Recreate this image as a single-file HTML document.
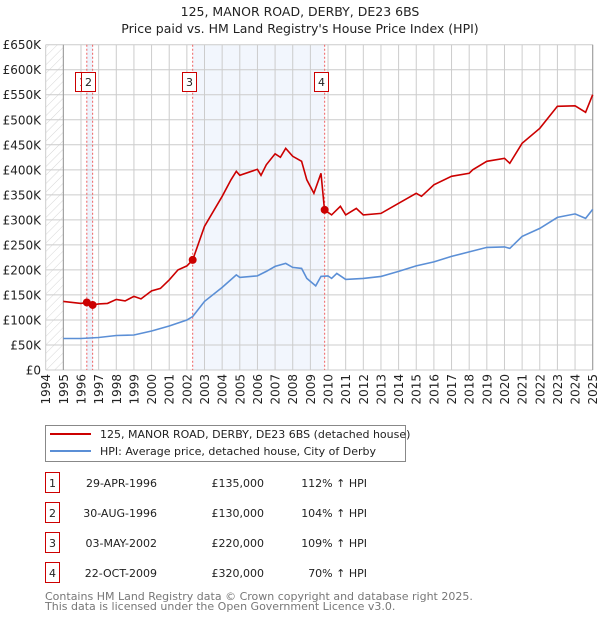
<!DOCTYPE html>
<html><head><meta charset="utf-8"><style>
body{margin:0;background:#fff;font-family:"DejaVu Sans","Liberation Sans",sans-serif;}
svg text{font-family:"DejaVu Sans","Liberation Sans",sans-serif;}
</style></head><body>
<svg id="chart" width="600" height="620" viewBox="0 0 600 620" xmlns="http://www.w3.org/2000/svg">
<defs><pattern id="hatch" width="6" height="6" patternUnits="userSpaceOnUse" patternTransform="rotate(45)"><line x1="0" y1="0" x2="0" y2="6" stroke="#ccc" stroke-width="0.8"/></pattern></defs>
<text x="300" y="16" text-anchor="middle" font-size="12.5" fill="#222">125, MANOR ROAD, DERBY, DE23 6BS</text>
<text x="300" y="33" text-anchor="middle" font-size="12.5" fill="#222">Price paid vs. HM Land Registry's House Price Index (HPI)</text>
<g id="plot"></g>
<g>
<rect x="45.5" y="425.5" width="360" height="36" fill="#fff" stroke="#888"/>
<line x1="50" y1="434" x2="91" y2="434" stroke="#cc0000" stroke-width="2"/>
<text x="100" y="438" font-size="11" fill="#222">125, MANOR ROAD, DERBY, DE23 6BS (detached house)</text>
<line x1="50" y1="451" x2="91" y2="451" stroke="#5b8fd6" stroke-width="2"/>
<text x="100" y="455" font-size="11" fill="#222">HPI: Average price, detached house, City of Derby</text>
</g>
<g id="table" font-size="11" fill="#222"></g>
<text x="45" y="600" font-size="11" fill="#777">Contains HM Land Registry data © Crown copyright and database right 2025.</text>
<text x="45" y="610" font-size="11" fill="#777">This data is licensed under the Open Government Licence v3.0.</text>
</svg>
<script>
const hpiYears=[1995,1996,1997,1998,1999,2000,2001,2002,2002.33,2003,2004,2004.8,2005,2006,2006.5,2007,2007.6,2008,2008.5,2008.8,2009.3,2009.6,2010,2010.2,2010.5,2011,2012,2013,2014,2015,2016,2017,2018,2019,2020,2020.3,2021,2022,2023,2024,2024.6,2025];
const hpiValues=[63,63,65,69,70,78,88,100,107,137,165,190,185,188,197,207,213,205,203,183,168,187,188,183,193,181,183,187,197,208,216,227,236,245,246,243,267,283,305,312,303,321];
const redYears=[1995,1996,1996.33,1996.66,1997,1997.5,1998,1998.5,1999,1999.4,2000,2000.5,2001,2001.5,2002,2002.33,2003,2004,2004.5,2004.8,2005,2006,2006.2,2006.5,2007,2007.3,2007.6,2008,2008.5,2008.8,2009.2,2009.6,2009.8,2010.2,2010.7,2011,2011.6,2012,2013,2014,2015,2015.3,2016,2017,2018,2018.2,2019,2020,2020.3,2021,2022,2023,2024,2024.6,2025];
const redValues=[137,133,135,130,132,133,141,138,147,142,158,163,180,200,208,220,287,347,380,397,389,401,389,410,432,425,443,427,417,380,353,393,320,310,327,310,323,310,313,333,353,347,370,387,393,400,417,423,413,453,483,527,528,515,550];
const saleIds=["1","2","3","4"];
const saleYears=[1996.33,1996.66,2002.33,2009.81];
const salePrices=[135,130,220,320];
const saleDates=["29-APR-1996","30-AUG-1996","03-MAY-2002","22-OCT-2009"];
const salePriceLabels=["£135,000","£130,000","£220,000","£320,000"];
const saleHpiLabels=["112% ↑ HPI","104% ↑ HPI","109% ↑ HPI","70% ↑ HPI"];
const yTicks=[0,50,100,150,200,250,300,350,400,450,500,550,600,650];
const yTickLabels=["£0","£50K","£100K","£150K","£200K","£250K","£300K","£350K","£400K","£450K","£500K","£550K","£600K","£650K"];
const xYears=[];for(let y=1994;y<=2025;y++)xYears.push(y);

const NS="http://www.w3.org/2000/svg";
const X0=45.7,X1=592.7,Y0=370,Y1=44.7;
const xs=y=>X0+(y-1994)*(X1-X0)/31;
const ys=v=>Y0-(v)*(Y0-Y1)/650;
const plot=document.getElementById('plot');
function mk(tag,attrs,parent){const e=document.createElementNS(NS,tag);for(const k in attrs)e.setAttribute(k,attrs[k]);(parent||plot).appendChild(e);return e;}
let e;
e=mk('rect',{x:X0,y:Y1,width:X1-X0,height:Y0-Y1,fill:'#fff'});


e=mk('rect',{x:xs(1994),y:Y1,width:xs(1995)-xs(1994),height:Y0-Y1,fill:'url(#hatch)'});


e=mk('rect',{x:xs(saleYears[0]),y:Y1,width:xs(saleYears[1])-xs(saleYears[0]),height:Y0-Y1,fill:'#eef3fc'});


e=mk('rect',{x:xs(saleYears[2]),y:Y1,width:xs(saleYears[3])-xs(saleYears[2]),height:Y0-Y1,fill:'#f2f6fd'});


yTicks.forEach((v,i)=>{
  e=mk('line',{x1:X0,x2:X1,y1:ys(v),y2:ys(v),stroke:'#ccc','stroke-width':1});
  
  
  e=mk('text',{x:41,y:ys(v)+4.5,'text-anchor':'end','font-size':12,fill:'#222'});
  e.textContent=yTickLabels[i];
  
  
});
xYears.forEach(y=>{
  e=mk('line',{x1:xs(y),x2:xs(y),y1:Y1,y2:Y0,stroke:'#ccc','stroke-width':1});
  
  
  e=mk('text',{x:0,y:0,'text-anchor':'end','font-size':12,fill:'#222',transform:`translate(${xs(y)+4.5},374) rotate(-90)`});
  e.textContent=String(y);
  
  
});
e=mk('line',{x1:xs(1995),x2:xs(1995),y1:Y1,y2:Y0,stroke:'#999','stroke-width':1});


e=mk('line',{x1:X1,x2:X1,y1:Y1,y2:Y0,stroke:'#999','stroke-width':1});


saleYears.forEach(y=>{
  e=mk('line',{x1:xs(y),x2:xs(y),y1:Y1,y2:Y0,stroke:'#f06060','stroke-width':1,'stroke-dasharray':'2,2'});
  
  
});
const pts=(a,b)=>a.map((y,i)=>xs(y).toFixed(1)+','+ys(b[i]).toFixed(1)).join(' ');
e=mk('polyline',{points:pts(hpiYears,hpiValues),fill:'none',stroke:'#5b8fd6','stroke-width':1.6});


e=mk('polyline',{points:pts(redYears,redValues),fill:'none',stroke:'#cc0000','stroke-width':1.6});


saleYears.forEach((y,i)=>{
  e=mk('circle',{cx:xs(y),cy:ys(salePrices[i]),r:4,fill:'#cc0000'});
  
  
});
const boxX=[75,81,182,314];
saleIds.forEach((id,i)=>{
  e=mk('rect',{x:boxX[i]+0.5,y:72.5,width:14,height:19,fill:'#fff',stroke:'#cc0000'});
  
  
  e=mk('text',{x:boxX[i]+7.5,y:86,'text-anchor':'middle','font-size':11,fill:'#222'});
  e.textContent=id;
  
  
});
const tbl=document.getElementById('table');
saleIds.forEach((id,i)=>{
  const cy=483+i*30;
  e=mk('rect',{x:45.5,y:cy-10.5,width:14,height:20,fill:'#fff',stroke:'#cc0000'},tbl);
  
  
  e=mk('text',{x:52.5,y:cy+4,'text-anchor':'middle'},tbl);e.textContent=id;
  
  
  e=mk('text',{x:157,y:cy+4,'text-anchor':'end'},tbl);e.textContent=saleDates[i];
  
  
  e=mk('text',{x:264,y:cy+4,'text-anchor':'end'},tbl);e.textContent=salePriceLabels[i];
  
  
  e=mk('text',{x:367,y:cy+4,'text-anchor':'end'},tbl);e.textContent=saleHpiLabels[i];
  
  
});
</script>
</body></html>
